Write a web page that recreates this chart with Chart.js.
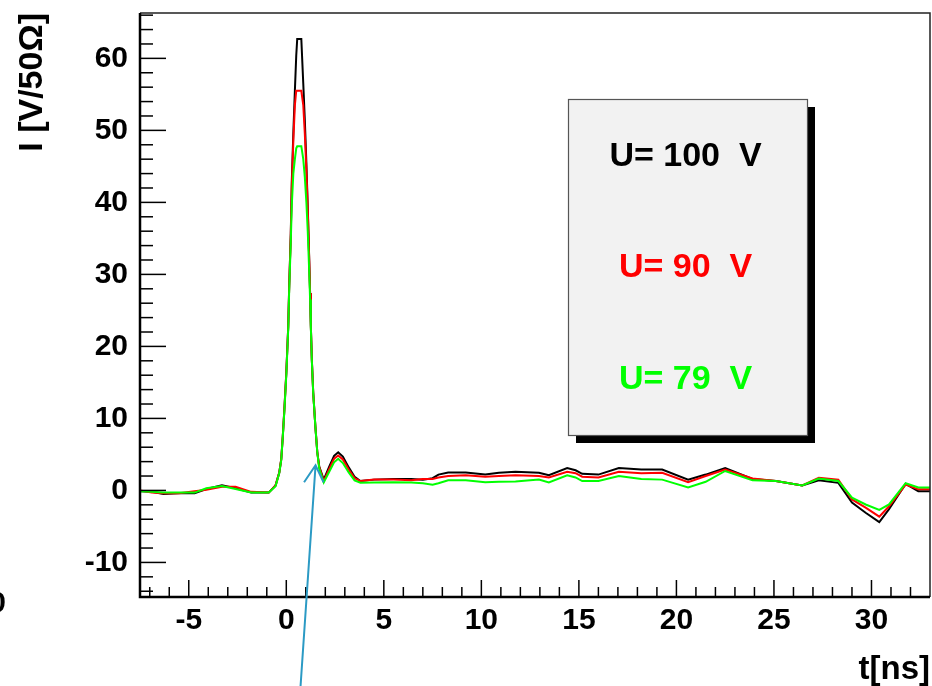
<!DOCTYPE html>
<html lang="en">
<head>
<meta charset="UTF-8">
<title>Current pulse vs bias voltage</title>
<script src="https://cdn.jsdelivr.net/npm/chart.js"></script>
<style>
  html, body { margin: 0; padding: 0; background: #fff; }
  #wrap { width: 932px; height: 686px; position: relative; }
</style>
</head>
<body>
<div id="wrap"><canvas id="pulseChart"></canvas></div>
<script>
// time in ns, shared by the three curves
const times = [-7.5, -6.9, -6.3, -5.5, -4.7, -4.1, -3.3, -2.6, -1.8, -0.9,
  -0.55, -0.36, -0.26, -0.18, -0.10, 0.0, 0.10, 0.15, 0.23, 0.28,
  0.36, 0.44, 0.51, 0.56, 0.77, 0.87, 0.95, 1.03, 1.10, 1.18,
  1.22, 1.26, 1.31, 1.38, 1.49, 1.59, 1.69, 1.92, 2.2, 2.45,
  2.66, 2.9, 3.2, 3.5, 3.8, 4.5, 5.5, 6.4, 7.0, 7.5,
  7.8, 8.3, 9.2, 10.2, 10.9, 11.75, 12.95, 13.46, 14.4, 14.83,
  15.17, 16.0, 17.05, 18.2, 19.27, 20.6, 21.5, 22.5, 23.9, 25.1,
  26.45, 27.3, 28.3, 29.0, 29.7, 30.4, 30.9, 31.75, 32.4, 33.0];

// current I [V/50 Ohm]
const u100 = [-0.1, -0.2, -0.5, -0.4, -0.4, 0.2, 0.7, 0.3, -0.3, -0.3,
  0.7, 2.5, 4.3, 7.5, 11.2, 16.3, 22.8, 28.5, 35.7, 42.8,
  49.6, 55.5, 60.4, 62.7, 62.7, 56.5, 51.4, 45.4, 39.4, 31.6,
  27.4, 22.7, 18.1, 13.6, 8.9, 5.3, 3.3, 1.5, 3.3, 4.8,
  5.3, 4.7, 3.2, 1.9, 1.3, 1.5, 1.6, 1.6, 1.5, 1.7,
  2.2, 2.5, 2.5, 2.2, 2.45, 2.6, 2.45, 2.1, 3.1, 2.8,
  2.3, 2.2, 3.1, 2.9, 2.9, 1.5, 2.2, 3.1, 1.6, 1.3,
  0.7, 1.4, 1.05, -1.7, -3.1, -4.4, -2.6, 0.9, -0.1, -0.1];

const u90 = [0.0, -0.3, -0.4, -0.4, -0.1, 0.1, 0.5, 0.5, -0.2, -0.3,
  0.7, 2.5, 4.3, 7.5, 11.2, 16.3, 22.8, 28.5, 35.5, 42.0,
  48.5, 53.5, 55.5, 55.5, 55.5, 53.5, 49.5, 44.5, 39.0, 31.5,
  27.4, 22.7, 18.1, 13.6, 8.9, 5.3, 3.2, 1.3, 3.0, 4.4,
  4.85, 4.3, 2.9, 1.7, 1.3, 1.5, 1.5, 1.4, 1.6, 1.6,
  1.8, 2.0, 2.1, 1.9, 2.0, 2.1, 2.0, 1.8, 2.6, 2.4,
  1.9, 1.8, 2.6, 2.4, 2.45, 1.15, 2.0, 2.9, 1.65, 1.3,
  0.7, 1.75, 1.5, -1.25, -2.4, -3.65, -2.2, 0.8, 0.15, 0.15];

const u79 = [-0.1, -0.2, -0.3, -0.3, -0.3, 0.3, 0.6, 0.2, -0.3, -0.3,
  0.6, 2.4, 4.2, 7.4, 11.0, 16.0, 22.5, 28.0, 34.5, 39.5,
  44.0, 46.0, 47.5, 47.8, 47.8, 46.0, 43.5, 40.0, 36.0, 30.0,
  26.5, 22.5, 18.0, 13.5, 8.9, 5.2, 3.0, 1.1, 2.6, 3.9,
  4.4, 3.8, 2.5, 1.4, 1.07, 1.1, 1.15, 1.1, 1.0, 0.8,
  1.0, 1.4, 1.4, 1.15, 1.2, 1.25, 1.5, 1.1, 2.1, 1.8,
  1.3, 1.3, 2.0, 1.6, 1.5, 0.4, 1.2, 2.7, 1.4, 1.3,
  0.7, 1.65, 1.3, -1.0, -1.95, -2.7, -1.95, 1.0, 0.4, 0.4];

const seriesLabels = ["U= 100  V", "U= 90  V", "U= 79  V"];
const seriesColors = ["#000000", "#ff0000", "#00ff00"];
const xTitle = "t[ns]";
const yTitle = "I [V/50\u03A9]";
const xRange = [-7.5, 33];
const yRange = [-14.8, 66.3];

const fontFamily = "'Liberation Sans', Arial, Helvetica, sans-serif";

function toPoints(vals) {
  return times.map((t, i) => ({ x: t, y: vals[i] }));
}

// axis frame and inward ticks, ROOT style
const frameTicks = {
  id: "frameTicks",
  afterDatasetsDraw(chart) {
    const { ctx, chartArea: a, scales: { x, y } } = chart;
    ctx.save();
    ctx.strokeStyle = "#000";
    ctx.lineWidth = 1.5;
    for (let v = -14; v <= 66; v += 2) {
      const py = y.getPixelForValue(v);
      const len = v % 10 === 0 ? 26 : 13;
      ctx.beginPath();
      ctx.moveTo(a.left, py);
      ctx.lineTo(a.left + len, py);
      ctx.stroke();
    }
    for (let t = -7; t <= 32; t += 1) {
      const px = x.getPixelForValue(t);
      const len = t % 5 === 0 ? 17 : 10;
      ctx.beginPath();
      ctx.moveTo(px, a.bottom);
      ctx.lineTo(px, a.bottom - len);
      ctx.stroke();
    }
    // top and right frame
    ctx.lineWidth = 1.5;
    ctx.strokeStyle = "#222";
    ctx.beginPath();
    ctx.moveTo(a.left, a.top);
    ctx.lineTo(a.right, a.top);
    ctx.lineTo(a.right, a.bottom);
    ctx.stroke();
    // axes
    ctx.lineWidth = 2.5;
    ctx.strokeStyle = "#000";
    ctx.beginPath();
    ctx.moveTo(a.left, a.top);
    ctx.lineTo(a.left, a.bottom);
    ctx.lineTo(a.right, a.bottom);
    ctx.stroke();
    ctx.restore();
  }
};

// shaded legend box with coloured labels + the arrow annotation
const legendBox = {
  id: "legendBox",
  afterDraw(chart) {
    const { ctx, scales: { x, y } } = chart;
    ctx.save();
    const bx = 568, by = 99, bw = 239, bh = 336;
    ctx.fillStyle = "#000";
    ctx.fillRect(bx + 8, by + 8, bw, bh);
    ctx.fillStyle = "#f2f2f2";
    ctx.fillRect(bx, by, bw, bh);
    ctx.strokeStyle = "#555";
    ctx.lineWidth = 1.2;
    ctx.strokeRect(bx + 0.5, by + 0.5, bw, bh);
    ctx.font = "bold 34px " + fontFamily;
    ctx.textAlign = "center";
    ctx.textBaseline = "middle";
    const rows = [157, 268, 380];
    seriesLabels.forEach((lab, i) => {
      ctx.fillStyle = seriesColors[i];
      ctx.fillText(lab, bx + bw / 2 - 2, rows[i]);
    });

    // arrow pointing at the end of the fast pulse
    const tipX = x.getPixelForValue(1.5), tipY = y.getPixelForValue(3.5);
    const tailX = tipX - 15, tailY = chart.height;
    ctx.strokeStyle = "#2b9ac4";
    ctx.lineWidth = 2;
    ctx.beginPath();
    ctx.moveTo(tailX, tailY);
    ctx.lineTo(tipX, tipY);
    ctx.moveTo(tipX - 11.5, tipY + 17);
    ctx.lineTo(tipX, tipY);
    ctx.lineTo(tipX + 8, tipY + 17);
    ctx.stroke();

    // clipped label from the neighbouring pad
    ctx.fillStyle = "#000";
    ctx.font = "bold 30px " + fontFamily;
    ctx.textAlign = "right";
    ctx.fillText("0", 6, 604);
    ctx.restore();
  }
};

const ctx = document.getElementById("pulseChart").getContext("2d");
new Chart(ctx, {
  type: "line",
  data: {
    datasets: [
      { label: seriesLabels[0], data: toPoints(u100), borderColor: seriesColors[0], order: 3 },
      { label: seriesLabels[1], data: toPoints(u90), borderColor: seriesColors[1], order: 2 },
      { label: seriesLabels[2], data: toPoints(u79), borderColor: seriesColors[2], order: 1 }
    ]
  },
  options: {
    responsive: true,
    maintainAspectRatio: false,
    animation: false,
    layout: { padding: { top: 13, right: 2, left: 0, bottom: 0 } },
    elements: {
      line: { borderWidth: 2, tension: 0, fill: false },
      point: { radius: 0 }
    },
    plugins: {
      legend: { display: false },
      tooltip: { enabled: false }
    },
    scales: {
      x: {
        type: "linear",
        min: xRange[0],
        max: xRange[1],
        grid: { display: false, drawTicks: false },
        border: { display: false },
        ticks: {
          stepSize: 5,
          includeBounds: false,
          autoSkip: false,
          maxRotation: 0,
          padding: 6,
          color: "#000",
          font: { family: fontFamily, size: 30, weight: "bold" }
        },
        title: {
          display: true,
          text: xTitle,
          align: "end",
          color: "#000",
          padding: { top: 0, bottom: 0 },
          font: { family: fontFamily, size: 33, weight: "bold", lineHeight: 1.0 }
        },
        afterFit(scale) {
          scale.height = 89;
          scale.paddingLeft = 0;
          scale.paddingRight = 0;
        }
      },
      y: {
        min: yRange[0],
        max: yRange[1],
        grid: { display: false, drawTicks: false },
        border: { display: false },
        ticks: {
          stepSize: 10,
          includeBounds: false,
          padding: 12,
          color: "#000",
          font: { family: fontFamily, size: 30, weight: "bold" }
        },
        title: {
          display: true,
          text: yTitle,
          align: "end",
          color: "#000",
          padding: { top: 12, bottom: 0 },
          font: { family: fontFamily, size: 34, weight: "bold" }
        },
        afterFit(scale) {
          scale.width = 140;
          scale.paddingTop = 0;
          scale.paddingBottom = 0;
        }
      }
    }
  },
  plugins: [frameTicks, legendBox]
});
</script>
</body>
</html>
